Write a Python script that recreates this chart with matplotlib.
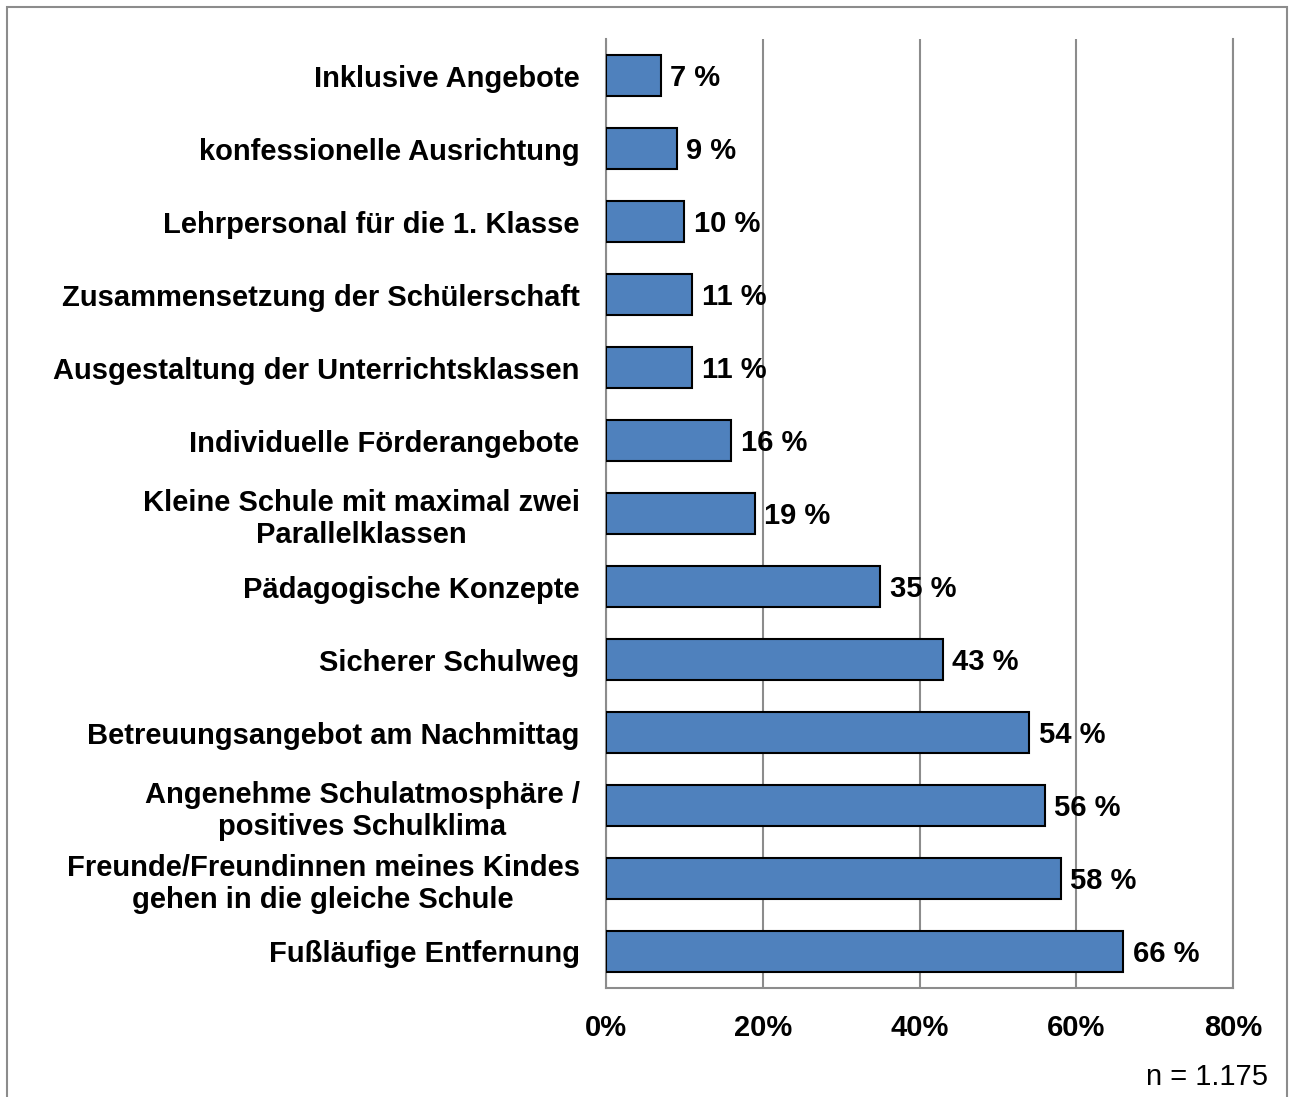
import matplotlib
matplotlib.use("Agg")
import matplotlib.pyplot as plt
from matplotlib.patches import Rectangle

plt.rcParams['font.family'] = ['Liberation Sans', 'DejaVu Sans']

# data, top to bottom as in the chart
categories = [
    "Inklusive Angebote",
    "konfessionelle Ausrichtung",
    "Lehrpersonal für die 1. Klasse",
    "Zusammensetzung der Schülerschaft",
    "Ausgestaltung der Unterrichtsklassen",
    "Individuelle Förderangebote",
    "Kleine Schule mit maximal zwei\nParallelklassen",
    "Pädagogische Konzepte",
    "Sicherer Schulweg",
    "Betreuungsangebot am Nachmittag",
    "Angenehme Schulatmosphäre /\npositives Schulklima",
    "Freunde/Freundinnen meines Kindes\ngehen in die gleiche Schule",
    "Fußläufige Entfernung",
]
values = [7, 9, 10, 11, 11, 16, 19, 35, 43, 54, 56, 58, 66]
x_ticks = [0, 20, 40, 60, 80]
tick_labels = ["0%", "20%", "40%", "60%", "80%"]

fig = plt.figure(figsize=(12.9, 10.97), dpi=100)
ax = fig.add_axes([606 / 1290, 1 - 988 / 1097, 627 / 1290, 949 / 1097])

ypos = list(range(len(categories)))
ax.barh(ypos, values, height=0.56, color='#4F81BD', edgecolor='black',
        linewidth=1.5, zorder=3)
for y, v in zip(ypos, values):
    ax.text(v + 1.2, y + 0.04, f"{v} %", va='center', ha='left',
            fontsize=21, fontweight='bold', zorder=4)

ax.set_xlim(0, 80)
ax.set_ylim(len(categories) - 0.5, -0.5)
ax.set_xticks(x_ticks)
ax.set_xticklabels(tick_labels, fontsize=21, fontweight='bold')
ax.set_yticks(ypos)
ax.set_yticklabels(categories, fontsize=21, fontweight='bold',
                   multialignment='center', linespacing=1.22)
ax.tick_params(axis='both', length=0)
ax.tick_params(axis='x', pad=19)
ax.tick_params(axis='y', pad=19)
ax.xaxis.grid(True, color='#8c8c8c', linewidth=1.5, zorder=0)

for side in ['left', 'bottom', 'right']:
    ax.spines[side].set_color('#8c8c8c')
    ax.spines[side].set_linewidth(1.5)
ax.spines['top'].set_visible(False)

fig.text(1268 / 1290, 1 - 1077 / 1097, "n = 1.175", ha='right', va='center',
         fontsize=21)

# outer border
fig.patches.append(Rectangle((7 / 1290, -0.01), 1280 / 1290, 1 - 7 / 1097 + 0.01,
                             transform=fig.transFigure, fill=False,
                             edgecolor='#8c8c8c', linewidth=1.5))

fig.savefig("out.png", dpi=100)
